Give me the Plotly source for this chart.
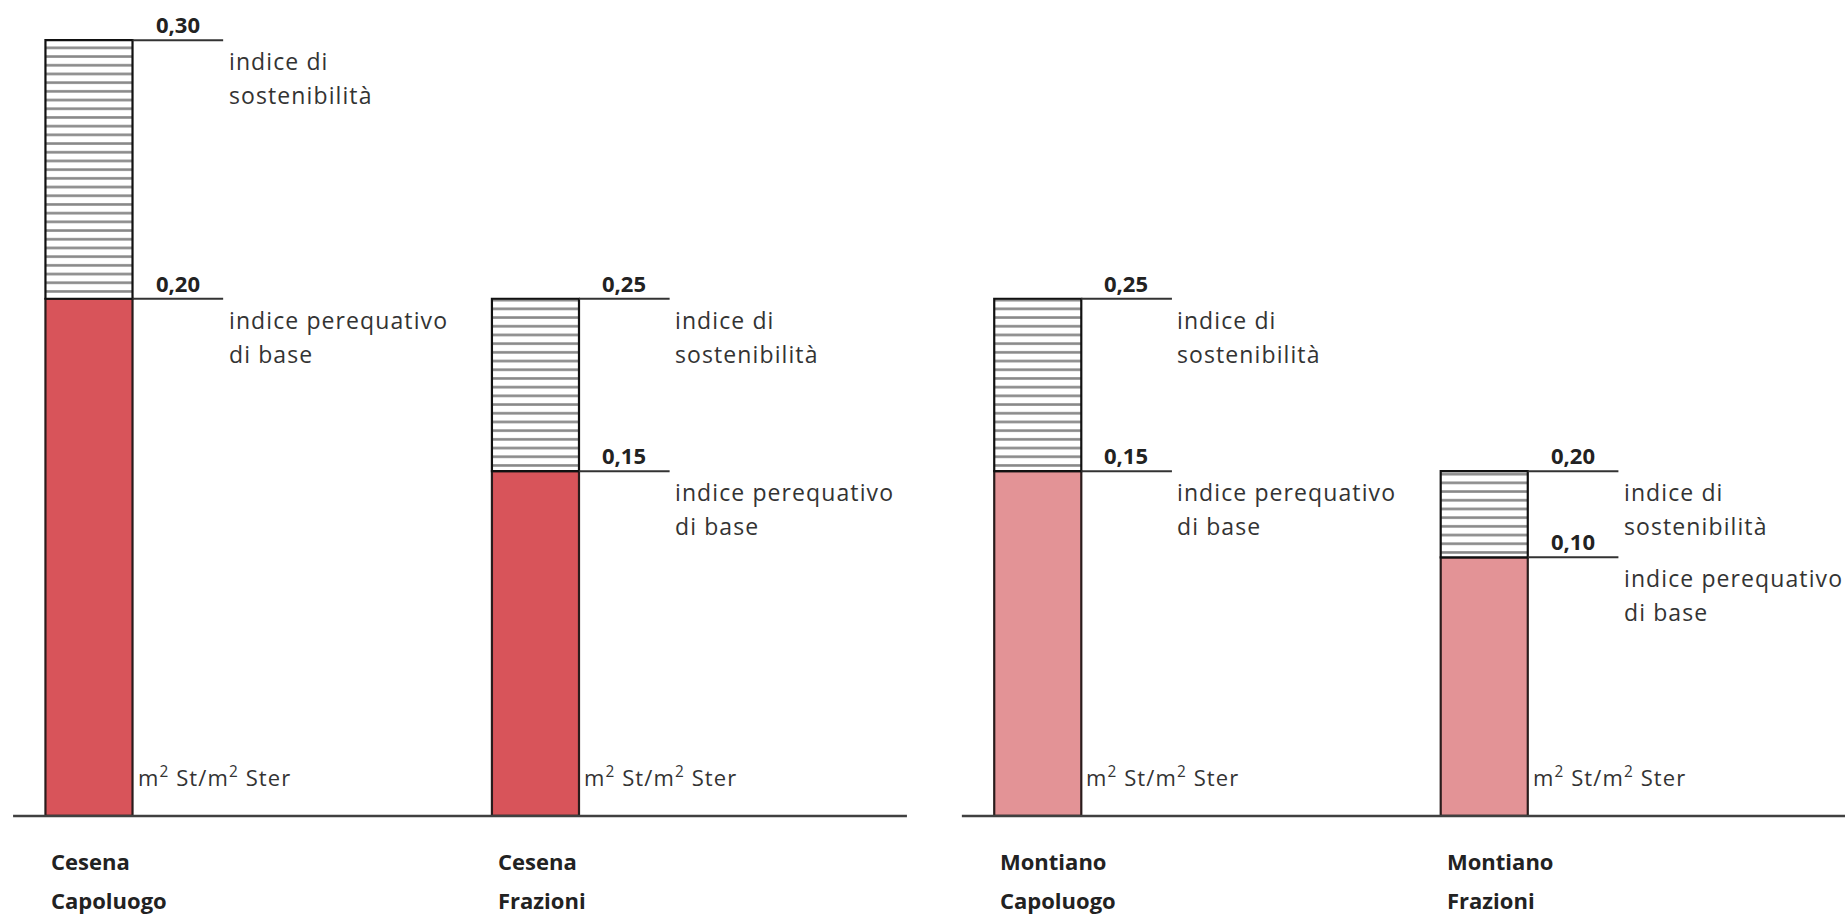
import plotly.graph_objects as go

# ---------------- data ----------------
comune = ["Cesena", "Cesena", "Montiano", "Montiano"]
ambito = ["Capoluogo", "Frazioni", "Capoluogo", "Frazioni"]
indice_base = [0.20, 0.15, 0.15, 0.10]          # indice perequativo di base
indice_sostenibilita = [0.30, 0.25, 0.25, 0.20]  # indice di sostenibilità (totale)
# heights as drawn in the (schematic, not-to-scale) original figure, in drawing units
altezza_base = [6, 4, 4, 3]
altezza_totale = [9, 6, 6, 4]
unita = "m<sup>2</sup> St/m<sup>2</sup> Ster"

# ---------------- layout / style ----------------
xpos = [0, 1, 2.125, 3.125]
BW = 0.195
LEAD = 0.203
colori = {"Cesena": "#d8545a", "Montiano": "#e39396"}
EDGE = "#2a1c1c"
FONT = "Open Sans"

def fmt(v):
    return f"{v:.2f}".replace(".", ",")

fig = go.Figure()

fig.add_trace(go.Bar(
    x=xpos, y=altezza_base, width=BW,
    marker=dict(color=[colori[c] for c in comune], line=dict(color=EDGE, width=2.2)),
    hoverinfo="skip", showlegend=False))

fig.add_trace(go.Bar(
    x=xpos, y=[t - b for t, b in zip(altezza_totale, altezza_base)], base=altezza_base, width=BW,
    marker=dict(color="white", line=dict(color="#111", width=2.2),
                pattern=dict(shape="-", fgcolor="#111", bgcolor="white", size=8.7, solidity=0.3)),
    hoverinfo="skip", showlegend=False))

# leader lines
lx, ly = [], []
for i in range(len(xpos)):
    r = xpos[i] + BW / 2
    for lvl in (altezza_totale[i], altezza_base[i]):
        lx += [r, r + LEAD, None]
        ly += [lvl, lvl, None]
fig.add_trace(go.Scatter(x=lx, y=ly, mode="lines", line=dict(color="#333", width=2),
                         hoverinfo="skip", showlegend=False))

# baselines
fig.add_shape(type="line", x0=-0.170, x1=1.832, y0=0, y1=0, line=dict(color="#404040", width=2.5))
fig.add_shape(type="line", x0=1.955, x1=4.2, y0=0, y1=0, line=dict(color="#404040", width=2.5))

ann = []
for i in range(len(xpos)):
    r = xpos[i] + BW / 2
    l = xpos[i] - BW / 2
    for lvl, val, lines in ((altezza_totale[i], indice_sostenibilita[i], ["indice di", "sostenibilità"]),
                            (altezza_base[i], indice_base[i], ["indice perequativo", "di base"])):
        ann.append(dict(x=r, y=lvl, xshift=45, yshift=16, text=f"<b>{fmt(val)}</b>",
                        xanchor="center", yanchor="middle", showarrow=False,
                        font=dict(family=FONT, size=22, color="#222")))
        for k, t in enumerate(lines):
            ann.append(dict(x=r, y=lvl, xshift=94, yshift=-21 - 34 * k, text=t, align="left",
                            xanchor="left", yanchor="middle", showarrow=False,
                            font=dict(family=FONT, size=23, color="#333")))
    ann.append(dict(x=r, y=0, xshift=3, yshift=39, text=unita, xanchor="left", yanchor="middle",
                    align="left", showarrow=False, font=dict(family=FONT, size=22, color="#333")))
    for k, t in enumerate([comune[i], ambito[i]]):
        ann.append(dict(x=l, y=0, xshift=4, yshift=-45 - 39 * k, text=f"<b>{t}</b>", align="left",
                        xanchor="left", yanchor="middle", showarrow=False,
                        font=dict(family=FONT, size=22, color="#222")))

fig.update_layout(
    width=1845, height=917,
    margin=dict(l=0, r=0, t=0, b=0),
    paper_bgcolor="white", plot_bgcolor="white",
    barmode="overlay",
    annotations=ann,
    xaxis=dict(range=[-0.1993, 3.933], visible=False, fixedrange=True),
    yaxis=dict(range=[-1.172, 9.466], visible=False, fixedrange=True),
)

post = """
document.body.style.margin='0';
document.querySelectorAll('.annotation-text').forEach(function(t){
  if (t.innerHTML.indexOf('bold') < 0) { t.style.letterSpacing = '1.1px'; }
});
"""
fig.write_html("out.html", post_script=post, config={"displayModeBar": False, "staticPlot": True})
